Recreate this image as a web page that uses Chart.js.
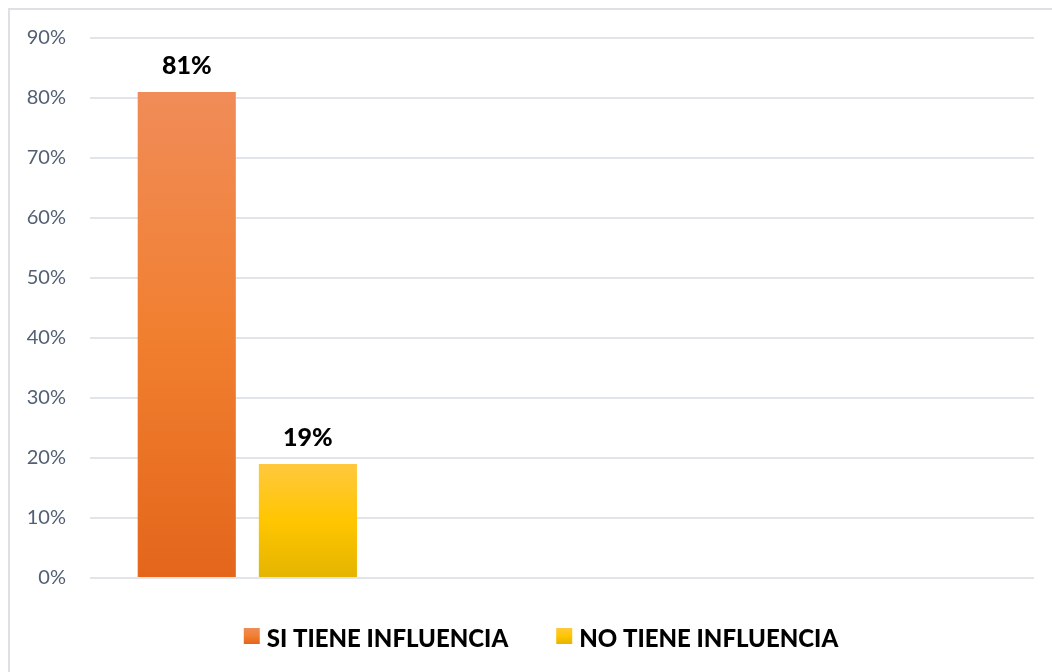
<!DOCTYPE html>
<html>
<head>
<meta charset="utf-8">
<script src="https://cdn.jsdelivr.net/npm/chart.js@4/dist/chart.umd.min.js"></script>
<style>
  body { margin: 0; background: #fff; overflow: hidden; }
  #marco { position: absolute; left: 8px; top: 8px; width: 1100px; height: 700px; border: 2px solid #dde0e5; }
  #caja { position: absolute; left: 0; top: 0; width: 1052px; height: 672px; }
</style>
</head>
<body>
<div id="marco"></div>
<div id="caja"><canvas id="grafico"></canvas></div>
<script>
// datos (3 categorias, solo la primera tiene valores)
const categorias = ['1', '2', '3'];
const siTiene = [81, null, null];
const noTiene = [19, null, null];
const series = ['SI TIENE INFLUENCIA', 'NO TIENE INFLUENCIA'];
const ticksY = [0, 10, 20, 30, 40, 50, 60, 70, 80, 90];

// colores degradados tipo excel (arriba, medio, abajo)
const coloresSi = ['#f08c58', '#f17f30', '#e3661b'];
const coloresNo = ['#ffc83e', '#ffc600', '#e4b400'];

function degradado(ctx, y0, y1, cols) {
	const g = ctx.createLinearGradient(0, y0, 0, y1);
	g.addColorStop(0, cols[0]);
	g.addColorStop(0.5, cols[1]);
	g.addColorStop(1, cols[2]);
	return g;
}

// relleno de cada barra, usando la escala del propio grafico
function rellenoBarra(cols) {
	return (context) => {
		const chart = context.chart;
		const y = chart.scales.y;
		if (!y || !chart.chartArea || context.raw == null) return cols[1];
		const y0 = y.getPixelForValue(context.raw), y1 = y.getPixelForValue(0);
		if (!isFinite(y0) || !isFinite(y1)) return cols[1];
		return degradado(chart.ctx, y0, y1, cols);
	};
}

// etiquetas encima de las barras
const etiquetas = {
	id: 'etiquetas',
	afterDatasetsDraw(chart) {
		const ctx = chart.ctx;
		ctx.save();
		ctx.font = '900 25px Lato';
		ctx.fillStyle = '#000';
		ctx.textAlign = 'center';
		ctx.textBaseline = 'alphabetic';
		chart.data.datasets.forEach((ds, i) => {
			chart.getDatasetMeta(i).data.forEach((bar, j) => {
				if (ds.data[j] == null) return;
				ctx.fillText(ds.data[j] + '%', bar.x, bar.y - 18);
			});
		});
		ctx.restore();
	}
};

// leyenda dibujada a mano para que quede igual que en excel
const leyenda = {
	id: 'leyenda',
	afterDraw(chart) {
		const ctx = chart.ctx;
		ctx.save();
		ctx.font = '900 24px Lato';
		const caja = 16, sep = 7, hueco = 48;
		const anchos = series.map(t => caja + sep + ctx.measureText(t).width);
		const total = anchos.reduce((a, b) => a + b, 0) + hueco * (series.length - 1);
		let x = chart.width / 2 + 15 - total / 2;
		const yCaja = 628;
		const cols = [coloresSi, coloresNo];
		series.forEach((t, i) => {
			ctx.fillStyle = degradado(ctx, yCaja, yCaja + caja, cols[i]);
			ctx.fillRect(x, yCaja, caja, caja);
			ctx.fillStyle = '#000';
			ctx.textBaseline = 'alphabetic';
			ctx.fillText(t, x + caja + sep, 647);
			x += anchos[i] + hueco;
		});
		ctx.restore();
	}
};

const grafico = document.getElementById('grafico').getContext('2d');
const myChart = new Chart(grafico, {
	type: 'bar',
	data: {
		labels: categorias,
		datasets: [
			{ label: series[0], data: siTiene, backgroundColor: rellenoBarra(coloresSi) },
			{ label: series[1], data: noTiene, backgroundColor: rellenoBarra(coloresNo) }
		]
	},
	options: {
		responsive: true,
		maintainAspectRatio: false,
		animation: false,
		categoryPercentage: 0.77,
		barPercentage: 0.81,
		layout: { padding: { left: 0, right: 18, top: 38, bottom: 94 } },
		plugins: { legend: { display: false }, tooltip: { enabled: false } },
		scales: {
			x: { display: false },
			y: {
				min: 0,
				max: 90,
				afterFit: (s) => { s.width = 90; },
				afterBuildTicks: (s) => { s.ticks = ticksY.map(v => ({ value: v })); },
				border: { display: false },
				grid: { color: '#e1e4e9', lineWidth: 2, drawTicks: false },
				ticks: {
					padding: 24,
					color: '#536073',
					font: { family: 'Lato', size: 20 },
					callback: (v) => v + '%'
				}
			}
		}
	},
	plugins: [etiquetas, leyenda]
});
</script>
</body>
</html>
